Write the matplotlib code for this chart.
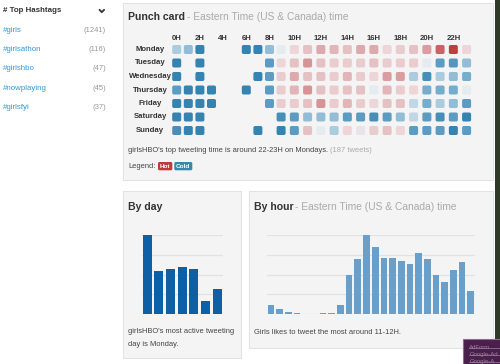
import matplotlib
matplotlib.use('Agg')
import matplotlib.pyplot as plt
from matplotlib.patches import Rectangle, FancyBboxPatch
from matplotlib.colors import LinearSegmentedColormap, Normalize
import numpy as np

plt.rcParams['font.family'] = ['Liberation Sans', 'DejaVu Sans']

# sidebar data
hashtags = ['#girls', '#girlsathon', '#girlshbo', '#nowplaying', '#girlsfyi']
hashtag_counts = [1241, 116, 47, 45, 37]

days = ['Monday', 'Tuesday', 'Wednesday', 'Thursday', 'Friday', 'Saturday', 'Sunday']
hour_labels = ['0H', '2H', '4H', '6H', '8H', '10H', '12H', '14H', '16H', '18H', '20H', '22H']

nan = np.nan
# punch card heat: negative = cold (blue), positive = hot (red), nan = no tweets
punch = [
    [-1.5, -2, -4, nan, nan, nan, -4, -4, -2, 0, 1, 2, 3, 2.5, 2, 3, 3, 1, 1.5, 2, 3.5, 5, 6, 1],
    [-4, nan, -4, nan, nan, nan, nan, nan, -3, 1, 2, 4, 2, 1.5, 1.5, 1.5, 2, 1.5, 1.5, 1.5, 0, -3, -3.2, -2],
    [-4, nan, -4, nan, nan, nan, nan, -4, -3, 1.5, 3, 2, 2, 1.5, 2.5, 1.5, 1, 3.5, 3.5, -1.5, -3.5, -1.5, -2, -2.5],
    [-3, -4, -4, -4, nan, nan, -4, nan, -3, 1.5, 2.5, 4, 2, 1.5, 2, 2, 0, 2.5, 1.5, 1, -2.5, -2.5, -2.5, 0],
    [-4, -4, -4, -4, nan, nan, nan, nan, -3, 1.5, 1.5, 2, 4, 1.5, 2.5, 1.5, 1, 2, 2, -1, -2.5, -1.5, -2, -3],
    [-4, -4, -4, nan, nan, nan, nan, nan, nan, -3.5, -3, -2, -2, -2, -3, -3, -3.5, -3, -2, -1, -3, -3.5, -3, -4],
    [-3.5, -4, -4, nan, nan, nan, nan, -4, nan, -4, -3, 2, 0, -1.5, 1, 0.3, 1.5, 2, 1, -3, -3, -3, -4, -3],
]

# by day (gridline units)
day_values = [4.0, 2.19, 2.31, 2.41, 2.27, 0.68, 1.27]
# by hour (gridline units)
hour_values = [0.44, 0.24, 0.08, 0.05, 0, 0, 0.05, 0.05, 0.47, 1.98, 2.81, 4.02,
               3.41, 2.85, 2.85, 2.71, 2.56, 3.08, 2.80, 1.97, 1.61, 2.24, 2.64, 1.17]

W, H = 500, 364
fig = plt.figure(figsize=(5, 3.64), dpi=100)
fig.patch.set_facecolor('white')
bg = fig.add_axes([0, 0, 1, 1])
bg.set_xlim(0, W)
bg.set_ylim(H, 0)
bg.axis('off')

dark = '#333333'
body = '#444444'
gray = '#aaaaaa'
link = '#3399d6'

# ---- sidebar
bg.text(3.3, 11, '# Top Hashtags', fontsize=5.7, fontweight='bold', color=dark, va='center')
bg.plot([99.5, 101.8, 104.1], [9.8, 12.2, 9.8], color=dark, lw=1.3, solid_capstyle='round')
for i, (tag, cnt) in enumerate(zip(hashtags, hashtag_counts)):
    y = 30.7 + 19.15 * i
    bg.text(3.3, y, tag, fontsize=5.7, color=link, va='center')
    bg.text(106, y, '(%d)' % cnt, fontsize=5.5, color='#999999', va='center', ha='right')

# ---- panels
for (x0, y0, w, h) in [(123, 3, 370, 177), (122.7, 191, 118, 167.3), (249.3, 191, 244, 157.3)]:
    bg.add_patch(Rectangle((x0, y0), w, h, fc='#f4f4f4', ec='#e3e3e3', lw=0.8))

# ---- punch card
bg.text(128.3, 17.3, 'Punch card', fontsize=7.6, fontweight='bold', color=dark, va='center')
bg.text(186.7, 17.3, '- Eastern Time (US & Canada) time', fontsize=7.4, color=gray, va='center')

levels = [-4, -3, -2, -1, 0, 1, 2, 3, 4, 5, 6]
colors = ['#3583b0', '#5d9dc2', '#93bdd6', '#c2d8e5', '#e5ecf0', '#edd5d8',
          '#e6c1c4', '#dea9ad', '#d69497', '#c86567', '#bd3f41']
norm = Normalize(-4, 6)
cmap = LinearSegmentedColormap.from_list('hotcold', [(norm(l), c) for l, c in zip(levels, colors)])


def col_x(h):
    return 176.7 + 11.6 * h if h <= 9 else 176.7 + 9 * 11.6 + 13.25 * (h - 9)


for j, lab in enumerate(hour_labels):
    bg.text(col_x(2 * j), 38.3, lab, fontsize=5.6, fontweight='bold', color=dark,
            ha='center', va='center')

for r, day in enumerate(days):
    y = 49.5 + 13.5 * r
    bg.text(150, y, day, fontsize=5.6, fontweight='bold', color=dark, ha='center', va='center')
    for h, v in enumerate(punch[r]):
        if np.isnan(v):
            continue
        bg.add_patch(FancyBboxPatch((col_x(h) - 4.5, y - 4.5), 9, 9,
                                    boxstyle='round,pad=0,rounding_size=1.8',
                                    fc=cmap(norm(v)), ec='none'))

bg.text(128.3, 150.3, "girlsHBO's top tweeting time is around 22-23H on Mondays.",
        fontsize=5.4, color=body, va='center')
bg.text(330, 150.3, '(187 tweets)', fontsize=5.4, color=gray, va='center')
bg.text(128.3, 166, 'Legend:', fontsize=5.4, color=body, va='center')
bg.add_patch(FancyBboxPatch((158, 162), 14.3, 8.3, boxstyle='round,pad=0,rounding_size=1.5',
                            fc='#c0393b', ec='none'))
bg.text(165.2, 166.2, 'Hot', fontsize=4.6, fontweight='bold', color='white', ha='center', va='center')
bg.add_patch(FancyBboxPatch((174.3, 162), 18, 8.3, boxstyle='round,pad=0,rounding_size=1.5',
                            fc='#3a87ad', ec='none'))
bg.text(183.3, 166.2, 'Cold', fontsize=4.6, fontweight='bold', color='white', ha='center', va='center')

# ---- by day
bg.text(128.3, 206.7, 'By day', fontsize=7.6, fontweight='bold', color=dark, va='center')
bg.text(128.3, 331.7, "girlsHBO's most active tweeting", fontsize=5.4, color=body, va='center')
bg.text(128.3, 344.3, 'day is Monday.', fontsize=5.4, color=body, va='center')


def inset(x0, x1, ytop, ybot):
    ax = fig.add_axes([x0 / W, 1 - ybot / H, (x1 - x0) / W, (ybot - ytop) / H])
    ax.set_facecolor('none')
    for s in ax.spines.values():
        s.set_visible(False)
    ax.set_xticks([])
    ax.set_yticks([])
    for g in range(5):
        ax.axhline(g, color='#e2e2e2', lw=0.9, zorder=0)
    return ax


ax1 = inset(141.7, 222.7, 235, 314)
ax1.bar(range(len(day_values)), day_values, width=0.77, color='#0d5fa6', zorder=2)
ax1.set_xlim(-0.46, 6.46)
ax1.set_ylim(0, 4.02)

# ---- by hour
bg.text(254, 206.7, 'By hour', fontsize=7.6, fontweight='bold', color=dark, va='center')
bg.text(295, 206.7, '- Eastern Time (US & Canada) time', fontsize=7.4, color=gray, va='center')
bg.text(254, 332.7, 'Girls likes to tweet the most around 11-12H.', fontsize=5.4, color=body, va='center')

ax2 = inset(266.7, 475, 235, 314)
ax2.bar(range(len(hour_values)), hour_values, width=0.77, color='#68a0cb', zorder=2)
ax2.set_xlim(-0.5, 23.5)
ax2.set_ylim(0, 4.02)

# ---- page edges
bg.add_patch(Rectangle((495, 0), 5, H, fc='#2e3a26', ec='none'))
bg.add_patch(Rectangle((463.3, 339.3), 40, 30, fc='#4b1f4c', ec='#8c6e8c', lw=0.8))
for k, t in enumerate(['AdForm', 'Google-Ad', 'Google-A']):
    yy = 347.7 + 7 * k
    bg.text(469.3, yy, t, fontsize=4.3, color='#9a829a', va='center')
    bg.plot([469.3, 500], [yy, yy], color='#9a829a', lw=0.5)

fig.savefig('out.png', dpi=100)
